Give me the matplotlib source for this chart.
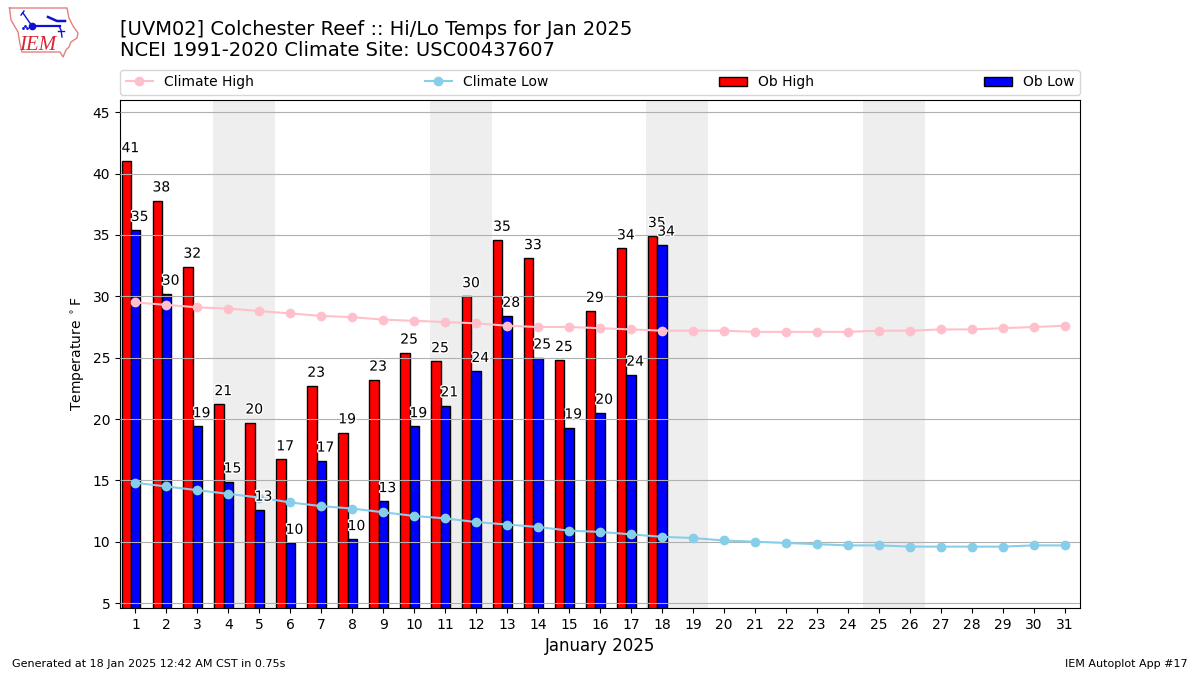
import numpy as np
import matplotlib
matplotlib.use("Agg")
from matplotlib import pyplot as plt
import matplotlib.patheffects as PathEffects

days = list(range(1, 32))
ob_high = [41.0, 37.8, 32.4, 21.2, 19.7, 16.7, 22.7, 18.9, 23.2, 25.4, 24.7, 30.0,
           34.6, 33.1, 24.8, 28.8, 33.9, 34.9]
ob_low = [35.4, 30.2, 19.4, 14.9, 12.6, 9.9, 16.6, 10.2, 13.3, 19.4, 21.1, 23.9,
          28.4, 25.0, 19.3, 20.5, 23.6, 34.2]
climo_high = [29.5, 29.3, 29.1, 29.0, 28.8, 28.6, 28.4, 28.3, 28.1, 28.0, 27.9, 27.8,
              27.6, 27.5, 27.5, 27.4, 27.3, 27.2, 27.2, 27.2, 27.1, 27.1, 27.1, 27.1,
              27.2, 27.2, 27.3, 27.3, 27.4, 27.5, 27.6]
climo_low = [14.8, 14.5, 14.2, 13.9, 13.6, 13.2, 12.9, 12.7, 12.4, 12.1, 11.9, 11.6,
             11.4, 11.2, 10.9, 10.8, 10.6, 10.4, 10.3, 10.1, 10.0, 9.9, 9.8, 9.7,
             9.7, 9.6, 9.6, 9.6, 9.6, 9.7, 9.7]
weekends = [(4, 5), (11, 12), (18, 19), (25, 26)]
width = 0.3

fig = plt.figure(figsize=(12, 6.75), dpi=100)
ax = fig.add_axes([0.1, 0.0993, 0.8, 0.7526])

for start, end in weekends:
    ax.axvspan(start - 0.5, end + 0.5, color="#eeeeee", zorder=1, lw=0)

obs_days = np.array(days[:len(ob_high)])
hi_left = obs_days - width * 1.5
lo_left = obs_days - width * 0.5
ax.bar(hi_left, ob_high, width, align="edge", color="r", ec="k", lw=1,
       label="Ob High", zorder=2)
ax.bar(lo_left, ob_low, width, align="edge", color="b", ec="k", lw=1,
       label="Ob Low", zorder=2)
ax.plot(days, climo_high, marker="o", color="pink", label="Climate High", zorder=3)
ax.plot(days, climo_low, marker="o", color="skyblue", label="Climate Low", zorder=3)

for x1, x2, hi, lo in zip(hi_left, lo_left, ob_high, ob_low):
    for xpos, val in ((x1, hi), (x2, lo)):
        txt = ax.text(xpos, val + 0.5, f"{val:.0f}", ha="left", va="bottom", zorder=4)
        txt.set_path_effects([PathEffects.withStroke(linewidth=2, foreground="white")])

ax.set_xlim(0.5, 31.5)
ax.set_ylim(4.6, 46)
ax.set_xticks(days)
ax.set_yticks(range(5, 50, 5))
ax.yaxis.grid(True, zorder=2.5)
ax.set_axisbelow(False)
ax.xaxis.grid(False)
ax.set_ylabel(r"Temperature $^\circ$F")
ax.set_xlabel("January 2025", fontsize=12)

handles, labels = ax.get_legend_handles_labels()
order = [labels.index(n) for n in ("Climate High", "Climate Low", "Ob High", "Ob Low")]
ax.legend([handles[i] for i in order], [labels[i] for i in order], ncol=4,
          loc="lower left", bbox_to_anchor=(0, 1.01, 1, 0.05), mode="expand",
          borderaxespad=0, fontsize=10)

fig.text(0.1, 0.9405, "[UVM02] Colchester Reef :: Hi/Lo Temps for Jan 2025\n"
         "NCEI 1991-2020 Climate Site: USC00437607", fontsize=14, va="center", linespacing=1.15)
fig.text(0.01, 0.0125, "Generated at 18 Jan 2025 12:42 AM CST in 0.75s", fontsize=8)
fig.text(0.99, 0.0125, "IEM Autoplot App #17", fontsize=8, ha="right")

# IEM logo, coordinates are pixels of the figure
logo = fig.add_axes([5 / 1200, 1 - 61 / 675, 80 / 1200, 58 / 675])
logo.set_xlim(5, 85)
logo.set_ylim(61, 3)
logo.axis("off")
outline_x = [9.5, 67, 69, 73, 78, 77, 71, 69, 66, 63, 60, 22, 20, 18, 11, 9.5]
outline_y = [8, 8, 18, 26, 33, 38, 42, 47, 50, 57, 52, 52, 44, 32, 20, 8]
logo.plot(outline_x, outline_y, color="#e58080", lw=1)
logo.plot([32, 60], [26, 26], color="#1010d0", lw=1.6)
logo.plot([23, 32], [13, 26], color="#1010d0", lw=1)
logo.plot([21, 24], [15, 11], color="#1010d0", lw=1)
logo.plot([32], [26], "o", color="#1010d0", ms=4.5)
logo.plot([48, 57, 65], [17, 21, 21], color="#1010d0", lw=1.8)
logo.plot([59, 61, 62], [26, 30, 37], color="#1010d0", lw=1)
logo.plot([58, 64], [31, 31], color="#1010d0", lw=1)
logo.plot([23, 25, 27], [28, 26, 28], ".", color="#1010d0", ms=2)
logo.text(38, 45, "IEM", color="#d92535", fontsize=15, family="Liberation Serif",
          style="italic", ha="center", va="center")

fig.savefig("out.png", dpi=100)
